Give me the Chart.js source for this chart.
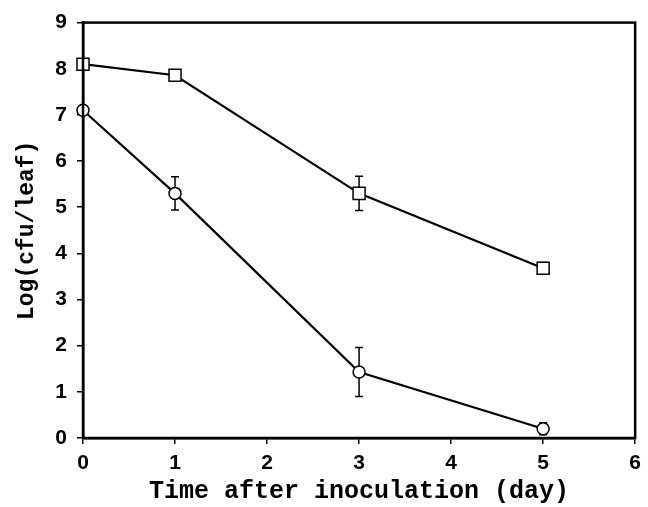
<!DOCTYPE html>
<html>
<head>
<meta charset="utf-8">
<script src="https://cdn.jsdelivr.net/npm/chart.js@4"></script>
<style>
  html, body { margin: 0; padding: 0; background: #fff; }
  #wrap { width: 648px; height: 507px; }
</style>
</head>
<body>
<div id="wrap"><canvas id="curveChart" width="648" height="507"></canvas></div>
<script>
const days = [0, 1, 3, 5];
const squareValues = [8.1, 7.86, 5.3, 3.68];
const squareErrors = [0.05, 0.12, 0.37, 0.12];
const circleValues = [7.1, 5.3, 1.43, 0.2];
const circleErrors = [0.05, 0.36, 0.53, 0.13];
const xTicks = [0, 1, 2, 3, 4, 5, 6];
const yTicks = [0, 1, 2, 3, 4, 5, 6, 7, 8, 9];

function toPoints(values) {
    return days.map((d, i) => ({ x: d, y: values[i] }));
}

// error bars go behind the markers, frame on top
const errorBars = {
    id: 'errorBars',
    beforeDatasetsDraw(chart) {
        const ctx = chart.ctx;
        const xs = chart.scales.x, ys = chart.scales.y;
        const sets = [[squareValues, squareErrors], [circleValues, circleErrors]];
        ctx.save();
        ctx.strokeStyle = '#000';
        ctx.lineWidth = 1.5;
        sets.forEach(([vals, errs]) => {
            vals.forEach((v, i) => {
                const px = xs.getPixelForValue(days[i]);
                const top = ys.getPixelForValue(v + errs[i]);
                const bot = ys.getPixelForValue(Math.max(0, v - errs[i]));
                ctx.beginPath();
                ctx.moveTo(px, top); ctx.lineTo(px, bot);
                ctx.moveTo(px - 4, top); ctx.lineTo(px + 4, top);
                ctx.moveTo(px - 4, bot); ctx.lineTo(px + 4, bot);
                ctx.stroke();
            });
        });
        ctx.restore();
    },
    afterDraw(chart) {
        const a = chart.chartArea, ctx = chart.ctx;
        ctx.save();
        ctx.strokeStyle = '#000';
        ctx.lineWidth = 2.5;
        ctx.strokeRect(a.left, a.top, a.right - a.left, a.bottom - a.top);
        ctx.restore();
    }
};

const tickFont = { family: 'Liberation Sans, Arial, sans-serif', size: 21, weight: 'bold' };
const xTitleFont = { family: 'Liberation Mono, Courier New, monospace', size: 25, weight: 'bold' };
const yTitleFont = { family: 'Liberation Mono, Courier New, monospace', size: 23, weight: 'bold' };

new Chart(document.getElementById('curveChart').getContext('2d'), {
    type: 'line',
    data: {
        datasets: [{
            label: 'square',
            data: toPoints(squareValues),
            borderColor: '#000',
            borderWidth: 2.2,
            pointStyle: 'rect',
            pointRadius: 8.5,
            pointBackgroundColor: '#fff',
            pointBorderColor: '#000',
            pointBorderWidth: 1.5,
            tension: 0,
            clip: false
        }, {
            label: 'circle',
            data: toPoints(circleValues),
            borderColor: '#000',
            borderWidth: 2.2,
            pointStyle: 'circle',
            pointRadius: 6,
            pointBackgroundColor: '#fff',
            pointBorderColor: '#000',
            pointBorderWidth: 1.5,
            tension: 0,
            clip: false
        }]
    },
    options: {
        responsive: false,
        animation: false,
        layout: { padding: { top: 20, right: 7, bottom: 0, left: 0 } },
        plugins: { legend: { display: false }, tooltip: { enabled: false } },
        scales: {
            x: {
                type: 'linear',
                min: 0, max: 6,
                afterBuildTicks: s => { s.ticks = xTicks.map(v => ({ value: v })); },
                afterFit: s => { s.height = 69; },
                grid: { display: true, drawOnChartArea: false, drawTicks: true, tickLength: 6, color: '#000', lineWidth: 1.5 },
                border: { display: true, color: '#000', width: 2.5 },
                ticks: { color: '#000', font: tickFont, padding: 7, maxRotation: 0 },
                title: { display: true, text: 'Time after inoculation (day)', color: '#000', font: xTitleFont, padding: { top: 0, bottom: 0 } }
            },
            y: {
                type: 'linear',
                min: 0, max: 9,
                afterBuildTicks: s => { s.ticks = yTicks.map(v => ({ value: v })); },
                afterFit: s => { s.width = 83; },
                grid: { display: true, drawOnChartArea: false, drawTicks: true, tickLength: 6, color: '#000', lineWidth: 1.5 },
                border: { display: true, color: '#000', width: 2.5 },
                ticks: { color: '#000', font: tickFont, padding: 10 },
                title: { display: true, text: 'Log(cfu/leaf)', color: '#000', font: yTitleFont, padding: { top: 13, bottom: 0 } }
            }
        }
    },
    plugins: [errorBars]
});
</script>
</body>
</html>
